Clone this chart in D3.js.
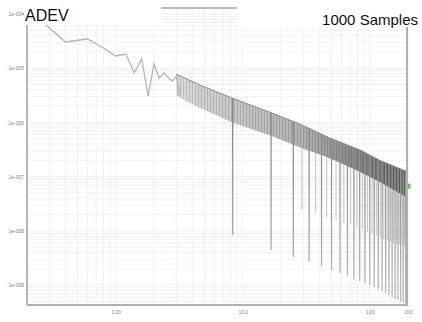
<!DOCTYPE html>
<html>
<head>
<meta charset="utf-8">
<script src="https://cdn.jsdelivr.net/npm/d3@7"></script>
<style>
  body { margin: 0; background: #fff; }
  svg { display: block; font-family: "Liberation Sans", Arial, sans-serif; }
</style>
</head>
<body>
<svg id="chart"></svg>
<script>
var WIDTH = 422;
var HEIGHT = 322;

// first averaging times, read point by point
var headTau = [0.2, 0.4, 0.6, 0.8, 1.0, 1.2, 1.4, 1.6, 1.8, 2.0, 2.2, 2.4, 2.6, 2.8, 3.0, 3.2];
var headAdev = [1.29e-4, 3.05e-5, 3.46e-5, 2.36e-5, 1.68e-5, 1.83e-5, 8.2e-6, 1.48e-5, 3.1e-6,
                1.2e-5, 6.6e-6, 8.2e-6, 6.6e-6, 5.8e-6, 7.2e-6, 3.1e-6];

// dense part: upper / lower edge of the band of curves
var bandTau = [3.0, 4.6, 8.3, 16.9, 28, 48, 84, 120, 200];
var bandHi = [7.8e-6, 4.9e-6, 2.8e-6, 1.5e-6, 9.4e-7, 5.2e-7, 3.1e-7, 2.0e-7, 1.22e-7];
var bandLo = [3.1e-6, 1.85e-6, 1.0e-6, 5.6e-7, 3.5e-7, 2.2e-7, 1.22e-7, 8.0e-8, 4.0e-8];

// deep notches
var dipTau = [8.33, 16.7, 25, 33.3, 41.7, 50, 58.3, 66.7, 75, 83.3, 91.7, 100, 108.3, 116.7,
              125, 133.3, 141.7, 150, 158.3, 166.7, 175, 183.3, 191.7];
var dipAdev = [8.4e-9, 4.4e-9, 3.3e-9, 2.66e-9, 2.24e-9, 1.89e-9, 1.67e-9, 1.47e-9, 1.29e-9, 1.19e-9,
               1.09e-9, 1.0e-9, 9.2e-10, 8.4e-10, 7.8e-10, 7.1e-10, 6.5e-10, 6.0e-10, 5.5e-10,
               5.3e-10, 4.9e-10, 4.7e-10, 4.3e-10];

// lighter notches between them
var minorTau = [29.2, 37.5, 45.8, 54.2, 62.5, 70.8, 79.2, 87.5, 95.8, 104.2, 112.5, 120.8, 129.2,
                137.5, 145.8, 154.2, 162.5, 170.8, 179.2, 187.5];
var minorAdev = [2.4e-8, 2.1e-8, 1.8e-8, 1.6e-8, 1.4e-8, 1.3e-8, 1.15e-8, 1.05e-8, 9.5e-9, 8.8e-9,
                 8.2e-9, 7.6e-9, 7.1e-9, 6.7e-9, 6.3e-9, 6.0e-9, 5.8e-9, 5.6e-9, 5.5e-9, 5.4e-9];

var lastTau = 200;
var lastAdev = 6.7e-8;

var yTicks = [1e-4, 1e-5, 1e-6, 1e-7, 1e-8, 1e-9];
var yTickLabels = ['1e-004', '1e-005', '1e-006', '1e-007', '1e-008', '1e-009'];
var xTicks = [1, 10, 100, 200];
var xTickLabels = ['1.00', '10.0', '100', '200'];

var svg = d3.select('#chart')
  .attr('width', WIDTH)
  .attr('height', HEIGHT);

var xScale = d3.scaleLog().domain([0.2, 200]).range([27, 408]);
var yScale = d3.scaleLog().domain([4.3e-10, 1.29e-4]).range([305, 8]);

// band edges interpolated in log space
var hiAt = d3.scaleLog().domain(bandTau).range(bandHi.map(Math.log10));
var loAt = d3.scaleLog().domain(bandTau).range(bandLo.map(Math.log10));

var defs = svg.append('defs');
defs.append('filter')
  .attr('id', 'soft')
  .append('feGaussianBlur')
  .attr('stdDeviation', 0.4);

var grad = defs.append('linearGradient')
  .attr('id', 'bandGrad')
  .attr('gradientUnits', 'userSpaceOnUse')
  .attr('x1', xScale(3)).attr('x2', xScale(200))
  .attr('y1', 0).attr('y2', 0);
grad.append('stop').attr('offset', '0').attr('stop-color', '#dadada');
grad.append('stop').attr('offset', '0.55').attr('stop-color', '#b0b0b0');
grad.append('stop').attr('offset', '1').attr('stop-color', '#5a5a5a');

// notches fade out toward the bottom
var dipGrad = defs.append('linearGradient')
  .attr('id', 'dipGrad')
  .attr('gradientUnits', 'userSpaceOnUse')
  .attr('x1', 0).attr('x2', 0)
  .attr('y1', 110).attr('y2', 305);
dipGrad.append('stop').attr('offset', '0').attr('stop-color', '#808080');
dipGrad.append('stop').attr('offset', '1').attr('stop-color', '#bcbcbc');

// thin vertical strands inside the band
var stripes = defs.append('pattern')
  .attr('id', 'strands')
  .attr('patternUnits', 'userSpaceOnUse')
  .attr('width', 3).attr('height', 10);
stripes.append('rect')
  .attr('width', 1).attr('height', 10)
  .attr('fill', '#000').attr('opacity', 0.13);

var plot = svg.append('g').attr('filter', 'url(#soft)');

// grid
plot.selectAll('line.vx')
  .data(xScale.ticks())
  .enter().append('line')
  .attr('x1', function(d){ return xScale(d); })
  .attr('x2', function(d){ return xScale(d); })
  .attr('y1', 8).attr('y2', 305)
  .attr('stroke', '#f0f0f0');
plot.selectAll('line.hy')
  .data(yScale.ticks())
  .enter().append('line')
  .attr('y1', function(d){ return yScale(d); })
  .attr('y2', function(d){ return yScale(d); })
  .attr('x1', 27).attr('x2', 408)
  .attr('stroke', '#f0f0f0');

// top border (mostly hidden under the title boxes)
plot.append('line')
  .attr('x1', 27).attr('x2', 408).attr('y1', 8).attr('y2', 8)
  .attr('stroke', '#bdbdbd').attr('stroke-width', 2);

var bandIdx = d3.range(bandTau.length);
var area = d3.area()
  .x(function(i){ return xScale(bandTau[i]); })
  .y0(function(i){ return yScale(bandLo[i]); })
  .y1(function(i){ return yScale(bandHi[i]); });
plot.append('path')
  .attr('d', area(bandIdx))
  .attr('fill', 'url(#bandGrad)');
plot.append('path')
  .attr('d', area(bandIdx))
  .attr('fill', 'url(#strands)');

var edge = d3.line()
  .x(function(i){ return xScale(bandTau[i]); })
  .y(function(i){ return yScale(bandHi[i]); });
plot.append('path')
  .attr('d', edge(bandIdx))
  .attr('fill', 'none')
  .attr('stroke', '#8a8a8a')
  .attr('stroke-width', 1);

// notches
plot.selectAll('line.minor')
  .data(minorTau)
  .enter().append('line')
  .attr('x1', function(d){ return xScale(d); })
  .attr('x2', function(d){ return xScale(d); })
  .attr('y1', function(d){ return yScale(Math.pow(10, loAt(d))); })
  .attr('y2', function(d, i){ return yScale(minorAdev[i]); })
  .attr('stroke', '#c2c2c2')
  .attr('stroke-width', 1);

plot.selectAll('line.dip')
  .data(dipTau)
  .enter().append('line')
  .attr('x1', function(d){ return xScale(d); })
  .attr('x2', function(d){ return xScale(d); })
  .attr('y1', function(d){ return yScale(Math.pow(10, hiAt(d))); })
  .attr('y2', function(d, i){ return yScale(dipAdev[i]); })
  .attr('stroke', 'url(#dipGrad)')
  .attr('stroke-width', 1.3);

// head of the curve
var headLine = d3.line()
  .x(function(d, i){ return xScale(headTau[i]); })
  .y(function(d){ return yScale(d); });
plot.append('path')
  .attr('d', headLine(headAdev))
  .attr('fill', 'none')
  .attr('stroke', '#b4b4b4')
  .attr('stroke-width', 1.3);

// current point
plot.append('rect')
  .attr('x', xScale(lastTau) - 2.5)
  .attr('y', yScale(lastAdev) - 2.5)
  .attr('width', 5).attr('height', 5)
  .attr('fill', '#5fc24a');

// axis frame
plot.append('line')
  .attr('x1', 27).attr('x2', 27).attr('y1', 8).attr('y2', 305)
  .attr('stroke', '#a0a0a0').attr('stroke-width', 1.5);
plot.append('line')
  .attr('x1', 27).attr('x2', 408).attr('y1', 305).attr('y2', 305)
  .attr('stroke', '#b0b0b0').attr('stroke-width', 2);
plot.append('line')
  .attr('x1', 407).attr('x2', 407).attr('y1', 8).attr('y2', 305)
  .attr('stroke', '#b0b0b0').attr('stroke-width', 2);

// title boxes hide the top of the plot
svg.append('rect').attr('x', 0).attr('y', 0).attr('width', 161).attr('height', 25).attr('fill', '#fff');
svg.append('rect').attr('x', 237).attr('y', 0).attr('width', 185).attr('height', 27).attr('fill', '#fff');

svg.append('text')
  .attr('x', 25).attr('y', 21)
  .attr('font-size', 16)
  .attr('fill', '#111')
  .text('ADEV');
svg.append('text')
  .attr('x', 418).attr('y', 24.5)
  .attr('text-anchor', 'end')
  .attr('font-size', 15)
  .attr('fill', '#111')
  .text('1000 Samples');

// axes
var leftAxis = d3.axisLeft(yScale)
  .tickValues(yTicks)
  .tickSize(0)
  .tickPadding(3)
  .tickFormat(function(d, i){ return yTickLabels[i]; });
var yAxisG = svg.append('g')
  .attr('transform', 'translate(27,0)')
  .call(leftAxis);

var botAxis = d3.axisBottom(xScale)
  .tickValues(xTicks)
  .tickSize(0)
  .tickPadding(5)
  .tickFormat(function(d, i){ return xTickLabels[i]; });
var xAxisG = svg.append('g')
  .attr('transform', 'translate(0,305)')
  .call(botAxis);

[yAxisG, xAxisG].forEach(function(g){
  g.select('.domain').remove();
  g.selectAll('text')
    .attr('font-size', 5)
    .attr('font-family', '"Liberation Sans", Arial, sans-serif')
    .attr('fill', '#808080');
});
</script>
</body>
</html>
